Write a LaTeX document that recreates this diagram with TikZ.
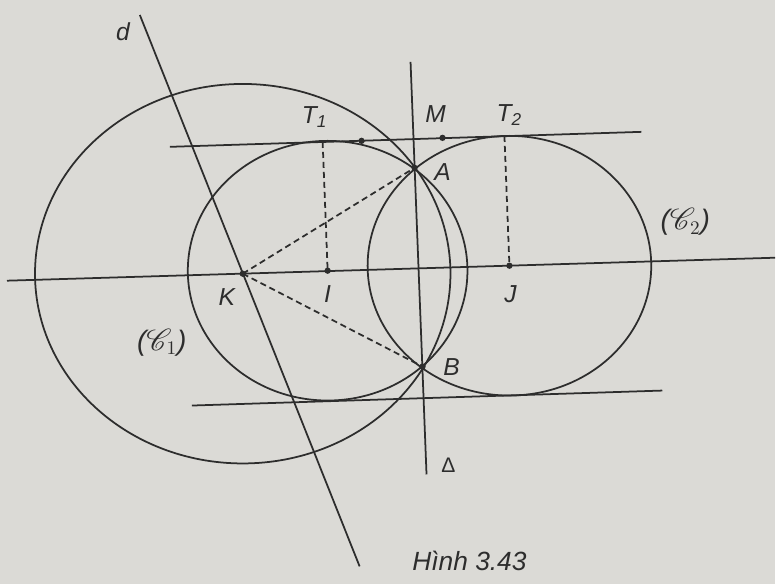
\documentclass[tikz,border=0pt]{standalone}
\usepackage{fontspec}
\setmainfont{Liberation Sans}
\usepackage{mathrsfs}
\definecolor{paper}{RGB}{219,218,214}
\definecolor{ink}{RGB}{45,45,45}

\begin{document}
\begin{tikzpicture}[
    x=0.02cm, y=-0.02cm,
    ln/.style={ink, line width=1pt},
    dsh/.style={ink, line width=1pt, dash pattern=on 3.5pt off 2.2pt},
    dot/.style={circle, fill=ink, inner sep=0pt, minimum size=3.6pt},
    lbl/.style={text=ink, font=\fontsize{14}{16}\selectfont\itshape, inner sep=0pt},
]

% Paper
\fill[paper] (0,0) rectangle (776,585);

% Points
\coordinate (K) at (243,274);
\coordinate (I) at (328,271);
\coordinate (J) at (510,266);
\coordinate (A) at (415,168);
\coordinate (B) at (423,367);
\coordinate (T1) at (323,142);
\coordinate (T2) at (505,136);
\coordinate (M) at (443,138);
\coordinate (P) at (362,141);

% Line ends
\coordinate (tl) at (170,147);  \coordinate (tr) at (642,132);
\coordinate (bl) at (192,406);  \coordinate (br) at (663,391);
\coordinate (ax1) at (7,281);   \coordinate (ax2) at (776,258);
\coordinate (d1) at (140,15);   \coordinate (d2) at (360,567);
\coordinate (D1) at (411,62);   \coordinate (D2) at (427,475);

% Circles
\draw[ln] (K) ellipse [x radius=4.16cm, y radius=3.8cm];
\draw[ln] (I) ellipse [x radius=2.8cm, y radius=2.6cm];
\draw[ln] (J) ellipse [x radius=2.84cm, y radius=2.6cm];

% Lines
\draw[ln] (tl) -- (tr);
\draw[ln] (bl) -- (br);
\draw[ln] (ax1) -- (ax2);
\draw[ln] (d1) -- (d2);
\draw[ln] (D1) -- (D2);

% Dashed
\draw[dsh] (T1) -- (I);
\draw[dsh] (T2) -- (J);
\draw[dsh] (K) -- (A);
\draw[dsh] (K) -- (B);

% Dots
\foreach \p in {K,I,J,A,B,M,P}
    \node[dot] (dot\p) at (\p) {};

% Labels
\node[lbl] (ld) at (123,32) {d};
\node[lbl] (lT1) at (315,117) {T\textsubscript{1}};
\node[lbl] (lT2) at (510,115) {T\textsubscript{2}};
\node[lbl] (lM) at (436,114) {M};
\node[lbl] (lA) at (443,172) {A};
\node[lbl] (lB) at (452,367) {B};
\node[lbl] (lK) at (227,297) {K};
\node[lbl] (lI) at (328,294) {I};
\node[lbl] (lJ) at (511,294) {J};
\node[text=ink, font=\fontsize{12}{14}\selectfont, inner sep=0pt] (lD) at (449,466) {Δ};
\node[lbl, font=\fontsize{16}{18}\selectfont\itshape] (lC1) at (162,343) {($\mathscr{C}_1$)};
\node[lbl, font=\fontsize{16}{18}\selectfont\itshape] (lC2) at (686,222) {($\mathscr{C}_2$)};
\node[lbl, font=\fontsize{15}{17}\selectfont\itshape] (cap) at (470,562) {Hình 3.43};

\end{tikzpicture}
\end{document}
